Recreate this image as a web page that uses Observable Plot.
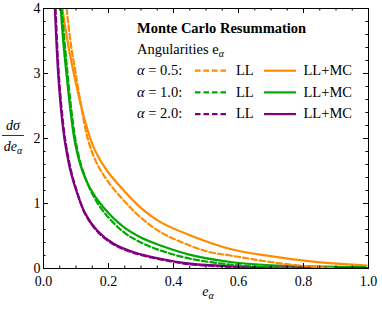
<!DOCTYPE html>
<html><head><meta charset="utf-8">
<script src="https://cdn.jsdelivr.net/npm/d3@7"></script>
<script src="https://cdn.jsdelivr.net/npm/@observablehq/plot@0.6"></script>
<style>
html,body{margin:0;padding:0;background:#fff;}
#chart svg{display:block;}
#chart svg text{font-family:'Liberation Serif','Times New Roman',serif;}
</style></head><body><div id="chart"></div>
<script>
// ---- data ----
const alphaLabels = ["0.5", "1.0", "2.0"];
const seriesColors = ["#ff8c00", "#00a800", "#800080"];

// alpha = 0.5
const eLL05 = [0.071,0.084,0.099,0.117,0.136,0.160,0.196,0.247,0.298,0.360,0.452,0.513,0.575,0.635,0.698,0.780,0.850,0.900];
const yLL05 = [4.0,3.46,3.0,2.47,2.0,1.66,1.354,1.046,0.79,0.559,0.35,0.25,0.20,0.15,0.10,0.05,0.02,0.005];
const eMC05 = [0.058,0.068,0.080,0.094,0.110,0.126,0.144,0.160,0.196,0.247,0.298,0.360,0.452,0.575,0.698,0.822,0.994];
const yMC05 = [4.0,3.68,3.33,2.98,2.62,2.3,2.0,1.80,1.50,1.2,0.94,0.713,0.508,0.30,0.19,0.11,0.046];

// alpha = 1.0
const eLL10 = [0.056,0.065,0.074,0.085,0.097,0.109,0.122,0.147,0.186,0.247,0.298,0.360,0.452,0.575,0.700,0.780];
const yLL10 = [4.0,3.48,3.0,2.47,2.02,1.72,1.49,1.18,0.867,0.559,0.405,0.277,0.15,0.06,0.02,0.004];
const eMC10 = [0.053,0.061,0.071,0.082,0.094,0.106,0.119,0.145,0.186,0.247,0.298,0.360,0.452,0.575,0.698,0.850,0.990];
const yMC10 = [4.0,3.48,2.98,2.47,2.02,1.73,1.51,1.22,0.93,0.636,0.482,0.354,0.21,0.10,0.05,0.03,0.02];

// alpha = 2.0
const eLL20 = [0.037,0.042,0.047,0.054,0.063,0.070,0.085,0.105,0.129,0.165,0.216,0.278,0.360,0.452,0.575,0.650,0.700];
const yLL20 = [4.0,3.45,3.0,2.55,2.12,1.88,1.5,1.15,0.83,0.575,0.37,0.24,0.14,0.065,0.025,0.01,0.003];
const eMC20 = [0.035,0.040,0.045,0.052,0.061,0.068,0.083,0.104,0.129,0.165,0.216,0.278,0.360,0.452,0.575,0.700,0.850,1.000];
const yMC20 = [4.0,3.45,3.0,2.55,2.12,1.88,1.5,1.15,0.84,0.585,0.38,0.25,0.15,0.075,0.035,0.018,0.01,0.005];

const xMajor = [0, 0.2, 0.4, 0.6, 0.8, 1.0];
const xTickLabels = ["0.0", "0.2", "0.4", "0.6", "0.8", "1.0"];
const xMinor = [0.05,0.1,0.15,0.25,0.3,0.35,0.45,0.5,0.55,0.65,0.7,0.75,0.85,0.9,0.95];
const yMajor = [0, 1, 2, 3, 4];
const yTickLabels = ["0", "1", "2", "3", "4"];
const yMinor = [0.2,0.4,0.6,0.8,1.2,1.4,1.6,1.8,2.2,2.4,2.6,2.8,3.2,3.4,3.6,3.8];

const titleText = "Monte Carlo Resummation";
const subtitleText = "Angularities e";
const llText = "LL";
const mcText = "LL+MC";

// ---- build tables ----
function rows(es, ys, alpha, kind) {
  return es.map((e, i) => ({e, y: ys[i], alpha, kind, key: alpha + kind}));
}
const llData = [
  ...rows(eLL05, yLL05, "0.5", "LL"),
  ...rows(eLL10, yLL10, "1.0", "LL"),
  ...rows(eLL20, yLL20, "2.0", "LL")
];
const mcData = [
  ...rows(eMC05, yMC05, "0.5", "MC"),
  ...rows(eMC10, yMC10, "1.0", "MC"),
  ...rows(eMC20, yMC20, "2.0", "MC")
];

const serif = "'Liberation Serif', 'Times New Roman', serif";

const chart = Plot.plot({
  width: 382,
  height: 310,
  marginLeft: 43,
  marginRight: 14,
  marginTop: 8,
  marginBottom: 42,
  style: {fontFamily: serif, fontSize: "14px", background: "white"},
  x: {domain: [0, 1], label: null},
  y: {domain: [0, 4], label: null},
  color: {domain: alphaLabels, range: seriesColors},
  marks: [
    Plot.line(mcData, {x: "e", y: "y", z: "key", stroke: "alpha", strokeWidth: 2.2, curve: "catmull-rom", clip: true}),
    Plot.line(llData, {x: "e", y: "y", z: "key", stroke: "alpha", strokeWidth: 2.2, strokeDasharray: "5.5,3", curve: "catmull-rom", clip: true}),
    Plot.frame({stroke: "black", strokeWidth: 1}),
    // inward ticks: bottom/top
    Plot.ruleX(xMajor, {x: d => d, y1: 0, y2: 0, insetTop: -5, stroke: "black"}),
    Plot.ruleX(xMinor, {x: d => d, y1: 0, y2: 0, insetTop: -2.5, stroke: "black"}),
    Plot.ruleX(xMajor, {x: d => d, y1: 4, y2: 4, insetBottom: -5, stroke: "black"}),
    Plot.ruleX(xMinor, {x: d => d, y1: 4, y2: 4, insetBottom: -2.5, stroke: "black"}),
    // inward ticks: left/right
    Plot.ruleY(yMajor, {y: d => d, x1: 0, x2: 0, insetRight: -5, stroke: "black"}),
    Plot.ruleY(yMinor, {y: d => d, x1: 0, x2: 0, insetRight: -2.5, stroke: "black"}),
    Plot.ruleY(yMajor, {y: d => d, x1: 1, x2: 1, insetLeft: -5, stroke: "black"}),
    Plot.ruleY(yMinor, {y: d => d, x1: 1, x2: 1, insetLeft: -2.5, stroke: "black"}),
    Plot.axisX(xMajor, {tickSize: 0, tickPadding: 8, fontSize: 14,
      tickFormat: d => xTickLabels[xMajor.indexOf(d)], label: null}),
    Plot.axisY(yMajor, {tickSize: 0, tickPadding: 3, fontSize: 14,
      tickFormat: d => yTickLabels[yMajor.indexOf(d)], label: null})
  ]
});
document.getElementById("chart").appendChild(chart);

// ---- legend and axis titles (rich text) ----
const svg = d3.select(chart);
const g = svg.append("g").attr("font-size", 14.5).attr("fill", "black").attr("text-anchor", "start");
g.append("text").attr("x", 137).attr("y", 32.7).attr("font-weight", "bold").text(titleText);
const st = g.append("text").attr("x", 137).attr("y", 54);
st.append("tspan").text(subtitleText);
st.append("tspan").attr("font-style", "italic").attr("font-size", 10).attr("dy", 3).text("α");

alphaLabels.forEach((a, i) => {
  const by = 75 + i * 21.7;
  const t = g.append("text").attr("x", 137).attr("y", by);
  t.append("tspan").attr("font-style", "italic").text("α");
  t.append("tspan").text(" = " + a + ":");
  g.append("line").attr("x1", 195).attr("x2", 227).attr("y1", by - 4.3).attr("y2", by - 4.3)
    .attr("stroke", seriesColors[i]).attr("stroke-width", 2.2).attr("stroke-dasharray", "5.5,3");
  g.append("text").attr("x", 236).attr("y", by).text(llText);
  g.append("line").attr("x1", 264).attr("x2", 296).attr("y1", by - 4.3).attr("y2", by - 4.3)
    .attr("stroke", seriesColors[i]).attr("stroke-width", 2.2);
  g.append("text").attr("x", 303.5).attr("y", by).text(mcText);
});

// y-axis label: fraction dσ / de_α
const yl = svg.append("g").attr("font-size", 14).attr("fill", "black").attr("text-anchor", "middle");
yl.append("text").attr("x", 13).attr("y", 130).attr("font-style", "italic").text("dσ");
yl.append("line").attr("x1", 2).attr("x2", 24).attr("y1", 135.5).attr("y2", 135.5).attr("stroke", "black").attr("stroke-width", 0.8);
const dl = yl.append("text").attr("x", 13).attr("y", 151).attr("font-style", "italic");
dl.append("tspan").text("de");
dl.append("tspan").attr("font-size", 10).attr("dy", 3).text("α");

// x-axis label: e_α
const xl = svg.append("text").attr("x", 208).attr("y", 296).attr("text-anchor", "middle")
  .attr("font-size", 14).attr("font-style", "italic").attr("fill", "black");
xl.append("tspan").text("e");
xl.append("tspan").attr("font-size", 10).attr("dy", 3).text("α");
</script>
</body></html>
